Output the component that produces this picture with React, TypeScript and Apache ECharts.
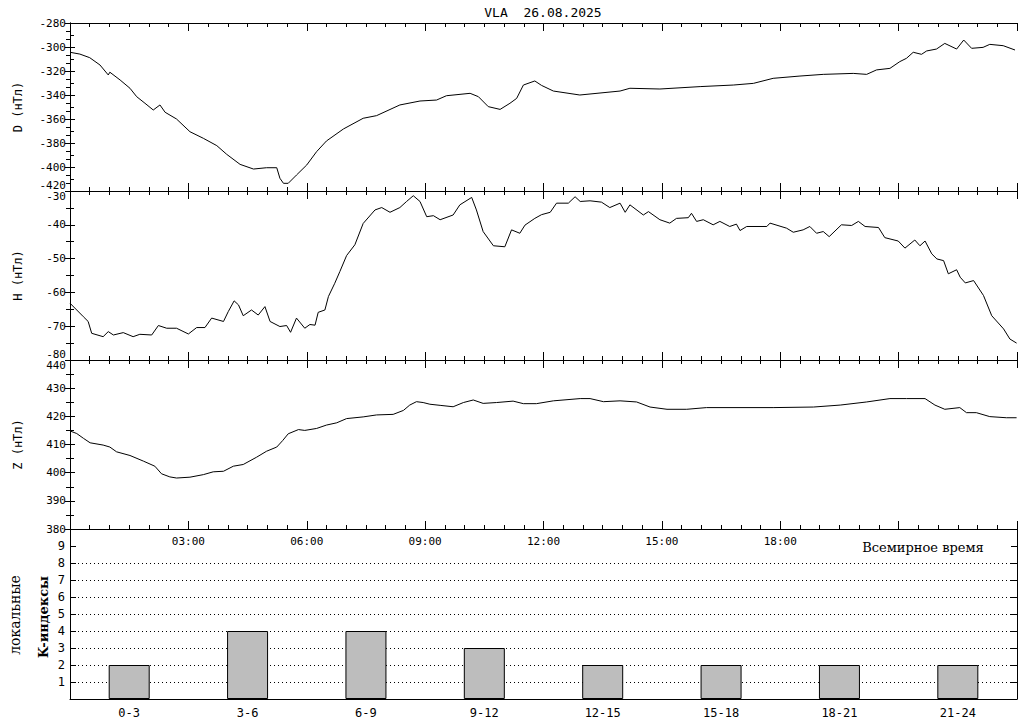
import React, { useEffect, useRef } from "react";
import * as echarts from "echarts";

const chartTitle = "VLA  26.08.2025";
const timeAxisName = "Всемирное время";
const kAxisNameTop = "локальные";
const kAxisNameBottom = "K-индексы";

const dTimes = [0, 0.25, 0.5, 0.76, 0.97, 1.01, 1.27, 1.52, 1.69, 1.9, 2.11, 2.28, 2.41, 2.7, 3.04, 3.38, 3.72, 3.97, 4.31, 4.65, 4.98, 5.24, 5.32, 5.41, 5.53, 5.74, 6.0, 6.25, 6.5, 6.93, 7.43, 7.77, 8.36, 8.87, 9.29, 9.54, 10.14, 10.35, 10.6, 10.9, 11.15, 11.32, 11.49, 11.78, 11.95, 12.25, 12.92, 13.94, 14.19, 14.95, 15.97, 16.81, 17.32, 17.82, 18.5, 19.09, 19.85, 20.19, 20.44, 20.78, 21.03, 21.2, 21.37, 21.58, 21.71, 21.96, 22.17, 22.47, 22.65, 22.85, 23.14, 23.31, 23.65, 23.95];
const dValues = [-304.4, -305.9, -308.9, -315, -323.3, -321, -327.5, -334.4, -341.4, -346.9, -352.5, -348.3, -354.4, -360, -370.6, -376.1, -382.2, -389.4, -397.8, -401.7, -400.6, -400.6, -409.4, -413.6, -413.6, -406.7, -398.3, -387.2, -378.3, -368.3, -359.4, -357.2, -348.3, -345, -344.2, -340.6, -338.6, -341.4, -349.7, -352, -346.9, -342.8, -331.7, -328.3, -332, -336.7, -340, -336.7, -334.4, -335, -333, -331.7, -330.3, -326.1, -324.2, -322.8, -322, -322.8, -319.1, -317.8, -312.2, -309.4, -304.4, -306.1, -303.3, -301.7, -297, -301.7, -294.2, -301.1, -300.3, -297.8, -298.9, -302.5];

const hTimes = [0, 0.17, 0.34, 0.46, 0.55, 0.84, 0.97, 1.1, 1.35, 1.6, 1.77, 2.07, 2.24, 2.45, 2.7, 3.0, 3.21, 3.42, 3.59, 3.89, 4.01, 4.16, 4.27, 4.39, 4.6, 4.77, 4.94, 5.07, 5.32, 5.49, 5.59, 5.74, 5.95, 6.08, 6.21, 6.29, 6.46, 6.55, 6.71, 6.84, 7.01, 7.22, 7.43, 7.73, 7.9, 8.11, 8.36, 8.53, 8.7, 8.87, 9.04, 9.21, 9.38, 9.71, 9.88, 10.18, 10.3, 10.47, 10.73, 11.02, 11.19, 11.4, 11.53, 11.78, 11.95, 12.17, 12.33, 12.63, 12.8, 12.93, 13.18, 13.47, 13.68, 13.94, 14.07, 14.19, 14.53, 14.66, 14.95, 15.2, 15.37, 15.67, 15.75, 15.88, 16.05, 16.3, 16.47, 16.72, 16.89, 16.98, 17.15, 17.66, 17.74, 18.16, 18.33, 18.58, 18.75, 18.92, 19.09, 19.24, 19.55, 19.81, 19.98, 20.15, 20.49, 20.65, 20.99, 21.16, 21.41, 21.54, 21.67, 21.84, 21.97, 22.14, 22.26, 22.47, 22.56, 22.69, 22.9, 23.15, 23.36, 23.66, 23.82, 23.99];
const hValues = [-63.2, -65.2, -67.2, -68.6, -72.1, -73.1, -71.6, -72.6, -71.9, -73.1, -72.4, -72.6, -69.8, -70.6, -70.6, -72.3, -70.4, -70.4, -67.6, -68.6, -65.7, -62.5, -63.7, -66.9, -65.2, -66.7, -64.2, -68.6, -70.1, -69.8, -71.8, -67.6, -70.6, -69.5, -69.7, -65.9, -65.2, -61.2, -57.3, -53.8, -49.1, -45.9, -39.6, -35.6, -34.9, -36.3, -34.9, -33.1, -31.4, -33.1, -37.6, -37.3, -38.5, -37.1, -34.1, -31.9, -35.6, -42, -46.2, -46.5, -41.5, -42.5, -40.1, -38.1, -37, -36.3, -33.6, -33.6, -31.7, -33.1, -32.9, -33.3, -34.9, -33.6, -36.3, -34.1, -37.1, -36.1, -38.5, -39.5, -38.1, -37.9, -36.6, -39, -38.5, -40, -39, -40.5, -39.8, -41.7, -40.5, -40.5, -39.5, -41, -42.2, -41.5, -40.5, -42.5, -42, -43.5, -40, -40.2, -39, -40.5, -40.8, -43.8, -44.8, -46.9, -44.5, -46.2, -44.8, -48.6, -50.1, -50.6, -54.5, -53.3, -55.5, -57.2, -56.5, -60.9, -66.9, -70.8, -73.8, -75];

const zTimes = [0, 0.17, 0.34, 0.51, 0.84, 1.01, 1.18, 1.52, 1.86, 2.15, 2.32, 2.53, 2.7, 3.04, 3.38, 3.63, 3.89, 4.14, 4.39, 4.73, 4.98, 5.24, 5.39, 5.53, 5.79, 5.95, 6.25, 6.5, 6.76, 7.01, 7.43, 7.77, 8.19, 8.45, 8.61, 8.78, 8.95, 9.12, 9.38, 9.71, 9.97, 10.22, 10.47, 10.81, 11.23, 11.49, 11.82, 12.25, 12.93, 13.18, 13.52, 13.94, 14.36, 14.7, 15.13, 15.63, 16.13, 16.98, 17.82, 18.84, 19.52, 20.19, 20.78, 21.2, 21.67, 21.92, 22.17, 22.55, 22.72, 22.97, 23.31, 23.73, 23.99];
const zValues = [414.8, 413.9, 412.2, 410.6, 409.8, 409.1, 407.4, 406.1, 404.1, 402.3, 399.6, 398.5, 398.1, 398.4, 399.3, 400.3, 400.5, 402.3, 402.9, 405.5, 407.6, 409.1, 411.4, 413.8, 415.3, 415, 415.7, 416.9, 417.7, 419.2, 419.8, 420.5, 420.7, 422.1, 424, 425.2, 424.9, 424.3, 423.9, 423.4, 424.9, 425.8, 424.6, 424.9, 425.4, 424.5, 424.5, 425.5, 426.3, 426.3, 425.2, 425.5, 425.1, 423.3, 422.5, 422.5, 423.1, 423.1, 423.1, 423.3, 424, 425.1, 426.3, 426.3, 426.3, 424, 422.5, 423.1, 421.3, 421.3, 419.9, 419.5, 419.5];

const kCategories = ["0-3", "3-6", "6-9", "9-12", "12-15", "15-18", "18-21", "21-24"];
const kValues = [2, 4, 4, 3, 2, 2, 2, 2];
const kDottedLevels = [1, 2, 3, 4, 5, 6, 7, 8];
const timeLabelHours = [3, 6, 9, 12, 15, 18];

const panelNames = ["D (нТл)", "H (нТл)", "Z (нТл)"];
const panelRanges = [
  { min: -420, max: -280, interval: 20, minorLeft: 2, minorRight: 3 },
  { min: -80, max: -30, interval: 10, minorLeft: 2, minorRight: 2 },
  { min: 380, max: 440, interval: 10, minorLeft: 2, minorRight: 2 },
];

const MONO = "DejaVu Sans Mono";
const SERIF = "DejaVu Serif";
const BLACK = "#000";

function pad2(n: number) {
  return n < 10 ? "0" + n : String(n);
}

export default function App() {
  const ref = useRef<HTMLDivElement>(null);

  useEffect(() => {
    if (!ref.current) return;
    const chart = echarts.init(ref.current, undefined, { renderer: "svg" });

    const grids = [
      { left: 70, right: 7, top: 23, height: 168 },
      { left: 70, right: 7, top: 191, height: 169 },
      { left: 70, right: 7, top: 360, height: 169 },
      { left: 70, right: 7, top: 529, height: 170 },
    ];

    const timeAxis = (gridIndex: number, position: string, showLabels: boolean) => ({
      type: "value",
      gridIndex,
      position,
      min: 0,
      max: 24,
      interval: 3,
      axisLine: { show: true, onZero: false, lineStyle: { color: BLACK, width: 1 } },
      axisTick: { show: true, inside: true, length: 8, lineStyle: { color: BLACK, width: 1 } },
      minorTick: { show: true, splitNumber: 6, length: 4, lineStyle: { color: BLACK, width: 1 } },
      splitLine: { show: false },
      minorSplitLine: { show: false },
      axisLabel: {
        show: showLabels,
        showMinLabel: false,
        showMaxLabel: false,
        margin: 7,
        color: BLACK,
        fontFamily: MONO,
        fontSize: 11,
        formatter: (v: number) => (timeLabelHours.indexOf(v) >= 0 ? pad2(v) + ":00" : ""),
      },
    });

    const xAxes: any[] = [];
    const yAxes: any[] = [];
    for (let i = 0; i < 3; i++) {
      xAxes.push(timeAxis(i, "bottom", i === 2));
      xAxes.push(timeAxis(i, "top", false));
      const r = panelRanges[i];
      yAxes.push({
        type: "value",
        gridIndex: i,
        position: "left",
        min: r.min,
        max: r.max,
        interval: r.interval,
        name: panelNames[i],
        nameLocation: "middle",
        nameGap: 46,
        nameRotate: 90,
        nameTextStyle: { color: BLACK, fontFamily: MONO, fontSize: 12 },
        axisLine: { show: true, lineStyle: { color: BLACK, width: 1 } },
        axisTick: { show: true, inside: true, length: 5, lineStyle: { color: BLACK } },
        minorTick: { show: true, splitNumber: r.minorLeft, length: 4, lineStyle: { color: BLACK } },
        splitLine: { show: false },
        axisLabel: {
          color: BLACK,
          fontFamily: MONO,
          fontSize: 11,
          margin: 4,
          verticalAlignMinLabel: i < 2 ? "bottom" : "middle",
          verticalAlignMaxLabel: i > 0 ? "top" : "middle",
        },
      });
      yAxes.push({
        type: "value",
        gridIndex: i,
        position: "right",
        min: r.min,
        max: r.max,
        interval: r.interval,
        axisLine: { show: true, lineStyle: { color: BLACK, width: 1 } },
        axisTick: { show: true, inside: true, length: 5, lineStyle: { color: BLACK } },
        minorTick: { show: true, splitNumber: r.minorRight, length: 4, lineStyle: { color: BLACK } },
        splitLine: { show: false },
        axisLabel: { show: false },
      });
    }
    xAxes.push({
      type: "category",
      gridIndex: 3,
      position: "bottom",
      data: kCategories,
      axisLine: { show: true, lineStyle: { color: BLACK, width: 1 } },
      axisTick: { show: false },
      splitLine: { show: false },
      axisLabel: { color: BLACK, fontFamily: MONO, fontSize: 12, margin: 8, interval: 0 },
    });
    yAxes.push({
      type: "value",
      gridIndex: 3,
      position: "left",
      min: 0,
      max: 10,
      interval: 1,
      axisLine: { show: true, lineStyle: { color: BLACK, width: 1 } },
      axisTick: { show: true, inside: true, length: 6, lineStyle: { color: BLACK } },
      splitLine: { show: false },
      axisLabel: {
        color: BLACK,
        fontFamily: MONO,
        fontSize: 12,
        margin: 5,
        formatter: (v: number) => (v <= 0 || v >= 10 ? "" : String(v)),
      },
    });
    yAxes.push({
      type: "value",
      gridIndex: 3,
      position: "right",
      min: 0,
      max: 10,
      interval: 1,
      axisLine: { show: true, lineStyle: { color: BLACK, width: 1 } },
      axisTick: { show: true, inside: true, length: 6, lineStyle: { color: BLACK } },
      splitLine: { show: false },
      axisLabel: { show: false },
    });

    const lineSeries = (name: string, times: number[], values: number[], axisIdx: number) => ({
      name,
      type: "line",
      xAxisIndex: axisIdx,
      yAxisIndex: axisIdx,
      data: times.map((t, i) => [t, values[i]]),
      showSymbol: false,
      symbol: "none",
      lineStyle: { color: BLACK, width: 1 },
      clip: true,
    });

    const option: any = {
      animation: false,
      backgroundColor: "#fff",
      grid: grids,
      xAxis: xAxes,
      yAxis: yAxes,
      series: [
        lineSeries("D", dTimes, dValues, 0),
        lineSeries("H", hTimes, hValues, 2),
        lineSeries("Z", zTimes, zValues, 4),
        {
          name: "K",
          type: "bar",
          xAxisIndex: 6,
          yAxisIndex: 6,
          data: kValues,
          barWidth: 41,
          z: 10,
          itemStyle: { color: "#bdbdbd", borderColor: BLACK, borderWidth: 1 },
          markLine: {
            silent: true,
            symbol: ["none", "none"],
            label: { show: false },
            lineStyle: { color: BLACK, type: [1, 3], width: 1 },
            data: kDottedLevels.map((v) => ({ yAxis: v })),
          },
        },
      ],
      graphic: [
        {
          type: "text",
          x: 543,
          y: 12,
          style: { text: chartTitle, align: "center", verticalAlign: "middle", fill: BLACK, font: `13px "${MONO}"` },
        },
        {
          type: "text",
          x: 923,
          y: 547,
          style: { text: timeAxisName, align: "center", verticalAlign: "middle", fill: BLACK, font: `13px "${SERIF}"` },
        },
        {
          type: "text",
          x: 15,
          y: 615,
          rotation: Math.PI / 2,
          style: { text: kAxisNameTop, align: "center", verticalAlign: "middle", fill: BLACK, font: `14px "${SERIF}"` },
        },
        {
          type: "text",
          x: 43,
          y: 617,
          rotation: Math.PI / 2,
          style: { text: kAxisNameBottom, align: "center", verticalAlign: "middle", fill: BLACK, font: `bold 13px "${SERIF}"` },
        },
      ],
    };

    chart.setOption(option);
    return () => chart.dispose();
  }, []);

  return (
    <div
      ref={ref}
      style={{ position: "fixed", left: 0, top: 0, width: 1024, height: 720, background: "#fff" }}
    />
  );
}
